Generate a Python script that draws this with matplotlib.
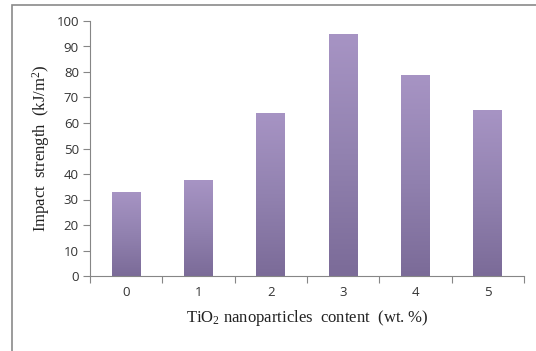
import numpy as np
import matplotlib
matplotlib.use("Agg")
import matplotlib.pyplot as plt
from matplotlib.colors import LinearSegmentedColormap
from matplotlib.patches import Rectangle

categories = ["0", "1", "2", "3", "4", "5"]
values = [33, 37.5, 64, 95, 78.7, 65]
y_ticks = [0, 10, 20, 30, 40, 50, 60, 70, 80, 90, 100]

plt.rcParams['mathtext.fontset'] = 'custom'
plt.rcParams['mathtext.rm'] = 'Liberation Serif'
plt.rcParams['mathtext.it'] = 'Liberation Serif:italic'

fig = plt.figure(figsize=(5.36, 3.51), dpi=100)
fig.patch.set_facecolor('white')
ax = fig.add_axes([90/536, 1-276/351, (524-90)/536, (276-21)/351])

cmap = LinearSegmentedColormap.from_list("bar", ["#7b6b98", "#9282b0", "#a794c4"])
grad = np.linspace(0, 1, 256).reshape(-1, 1)
x = np.arange(len(categories))
width = 0.4
bars = ax.bar(x, values, width=width, color='none', edgecolor='none')
for b in bars:
    x0, w, h = b.get_x(), b.get_width(), b.get_height()
    im = ax.imshow(grad, cmap=cmap, aspect='auto', origin='lower',
                   extent=[x0, x0 + w, 0, h], zorder=2)
    im.set_clip_path(b)

ax.set_xlim(-0.5, len(categories) - 0.5)
ax.set_ylim(0, 100)
ax.set_yticks(y_ticks)
ax.set_yticklabels([str(t) for t in y_ticks])
ax.set_xticks(x)
ax.set_xticklabels(categories)
ax.set_xticks(np.arange(-0.5, len(categories), 1.0), minor=True)
ax.tick_params(axis='x', which='major', length=0, pad=7)
ax.tick_params(axis='x', which='minor', length=5, color='#868686', width=0.8)
ax.tick_params(axis='y', length=5, color='#868686', width=0.8, pad=3)
for lab in ax.get_xticklabels() + ax.get_yticklabels():
    lab.set_fontfamily('Open Sans')
    lab.set_fontsize(9.5)
    lab.set_color('#333333')

for s in ['top', 'right']:
    ax.spines[s].set_visible(False)
for s in ['left', 'bottom']:
    ax.spines[s].set_color('#868686')
    ax.spines[s].set_linewidth(0.8)

ax.set_xlabel("TiO$_2$ nanoparticles  content  (wt. %)", fontfamily='Liberation Serif',
              fontsize=12, color='#222222', labelpad=7)
ax.set_ylabel("Impact  strength  (kJ/m$^2$)", fontfamily='Liberation Serif',
              fontsize=12, color='#222222', labelpad=3)

fig.add_artist(Rectangle((12/536, -0.1), 1.2, 1 - 4.5/351 + 0.1, transform=fig.transFigure,
                         fill=False, edgecolor='#8a8a8a', linewidth=1.2))

fig.savefig("out.png", dpi=100)
